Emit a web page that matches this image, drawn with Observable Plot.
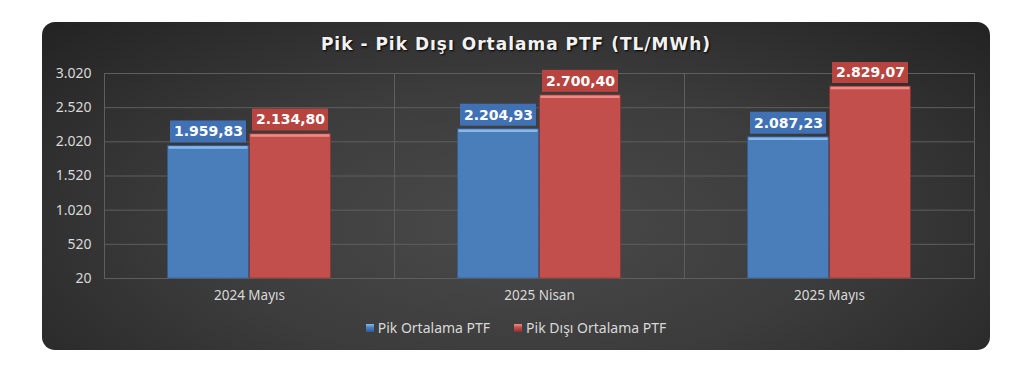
<!DOCTYPE html>
<html><head><meta charset="utf-8">
<script src="https://cdn.jsdelivr.net/npm/d3@7"></script>
<script src="https://cdn.jsdelivr.net/npm/@observablehq/plot@0.6"></script>
<style>
body{margin:0;background:#fff;width:1024px;height:368px;overflow:hidden;font-family:"Noto Sans",sans-serif;}
#panel{position:absolute;left:42px;top:22px;width:948px;height:328px;border-radius:13px;background:radial-gradient(ellipse 75% 95% at 50% 62%, #4a4a4a 0%, #3c3c3c 45%, #1f1f1f 100%);overflow:hidden;}
#title{position:absolute;left:0;top:12px;width:948px;text-align:center;font:bold 17px "DejaVu Sans",sans-serif;letter-spacing:1px;color:#f2f2f2;text-shadow:1px 1px 2px #000;}
#chart{position:absolute;left:0;top:40px;}
#legend{position:absolute;top:296px;left:0;width:948px;display:flex;justify-content:center;gap:24px;font:14px "Noto Sans",sans-serif;color:#d9d9d9;line-height:20px;}
#legend span.sw{display:inline-block;width:8px;height:8px;margin-right:4px;vertical-align:1px;}
</style></head>
<body>
<div id="panel">
  <div id="title">Pik - Pik Dışı Ortalama PTF (TL/MWh)</div>
  <div id="chart"></div>
  <div id="legend"></div>
</div>
<script>
const categories = ["2024 Mayıs", "2025 Nisan", "2025 Mayıs"];
const series = ["Pik Ortalama PTF", "Pik Dışı Ortalama PTF"];
const pikValues = [1959.83, 2204.93, 2087.23];
const pikDisiValues = [2134.80, 2700.40, 2829.07];
const yTicks = [20, 520, 1020, 1520, 2020, 2520, 3020];

const barColors = {"Pik Ortalama PTF": "#4a7ebb", "Pik Dışı Ortalama PTF": "#c24f4c"};
const boxColors = {"Pik Ortalama PTF": "#4171b5", "Pik Dışı Ortalama PTF": "#b84440"};
const hiColors = {"Pik Ortalama PTF": "#8ab8ee", "Pik Dışı Ortalama PTF": "#ee8a86"};
const edgeColors = {"Pik Ortalama PTF": "#2f5d96", "Pik Dışı Ortalama PTF": "#8e302e"};

const locale = d3.formatLocale({decimal: ",", thousands: ".", grouping: [3], currency: ["", " TL"]});
const fmtTick = locale.format(",d");
const fmtVal = locale.format(",.2f");

const data = [];
categories.forEach((c, i) => {
  data.push({category: c, series: series[0], value: pikValues[i]});
  data.push({category: c, series: series[1], value: pikDisiValues[i]});
});
const base = yTicks[0];

const plot = Plot.plot({
  width: 948,
  height: 250,
  marginLeft: 61,
  marginRight: 15,
  marginTop: 11,
  marginBottom: 34,
  style: {background: "transparent", color: "#d9d9d9", fontFamily: "'Noto Sans', sans-serif", fontSize: "13.5px"},
  fx: {domain: categories, padding: 0, label: null, axis: "bottom", tickSize: 0, tickPadding: 12},
  x: {domain: series, paddingInner: 0, paddingOuter: 0.75, axis: null},
  y: {domain: [yTicks[0], yTicks[yTicks.length - 1]], label: null, axis: null},
  marks: [
    Plot.gridY(yTicks, {stroke: "#5e5e5e", strokeOpacity: 1}),
    Plot.frame({anchor: "left", stroke: "#5e5e5e"}),
    Plot.frame({anchor: "right", stroke: "#5e5e5e"}),
    Plot.axisY(yTicks, {tickSize: 0, tickPadding: 13, tickFormat: fmtTick, fill: "#d9d9d9", fontSize: 14, label: null, facetAnchor: "left"}),
    Plot.barY(data, {fx: "category", x: "series", y1: base, y2: "value", fill: d => barColors[d.series], stroke: d => edgeColors[d.series], strokeWidth: 0.6, insetRight: 0.5, insetLeft: 0.5}),
    Plot.tickY(data, {fx: "category", x: "series", y: "value", stroke: d => hiColors[d.series], strokeWidth: 2.5, dy: 1.5, insetLeft: 1.5, insetRight: 1.5}),
    Plot.barY(data, {fx: "category", x: "series", y1: "value", y2: "value", insetTop: -25, insetBottom: 3, insetLeft: 3, insetRight: 3, fill: d => boxColors[d.series]}),
    Plot.text(data, {fx: "category", x: "series", y: "value", dy: -14, text: d => fmtVal(d.value), fill: "#ffffff", fontWeight: "bold", fontSize: 14, fontFamily: "'DejaVu Sans', sans-serif", lineAnchor: "middle"})
  ]
});
document.getElementById("chart").appendChild(plot);

const legend = document.getElementById("legend");
series.forEach(s => {
  const item = document.createElement("div");
  const sw = document.createElement("span");
  sw.className = "sw";
  sw.style.background = `linear-gradient(${hiColors[s]}, ${barColors[s]} 45%, ${edgeColors[s]})`;
  item.appendChild(sw);
  item.appendChild(document.createTextNode(s));
  legend.appendChild(item);
});
</script>
</body></html>
